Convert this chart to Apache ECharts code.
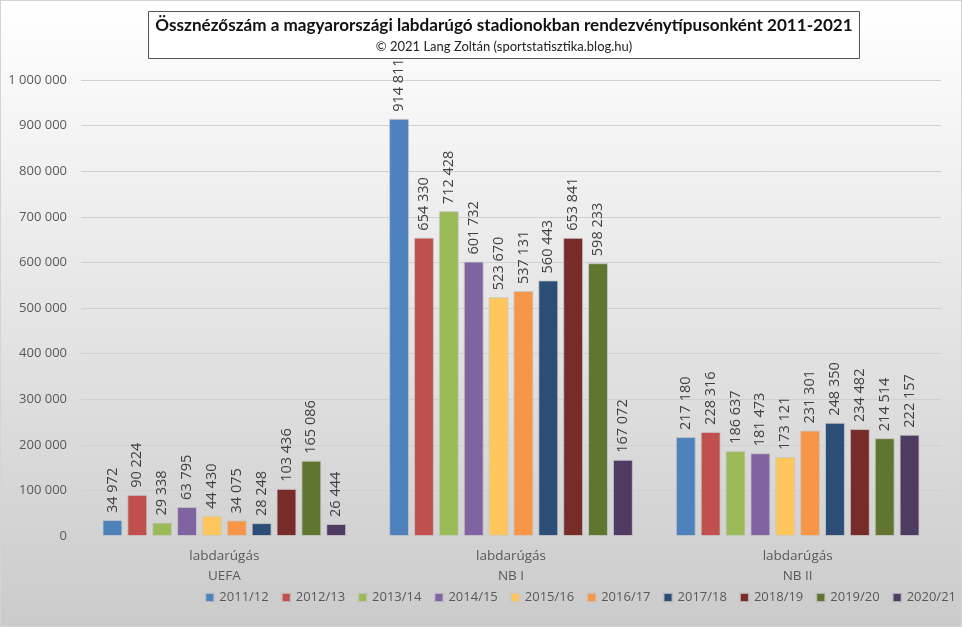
<!DOCTYPE html>
<html><head><meta charset="utf-8">
<script src="https://cdn.jsdelivr.net/npm/echarts@6/dist/echarts.min.js"></script>
<style>html,body{margin:0;padding:0;}#c{width:962px;height:627px;box-sizing:border-box;border:1px solid #d4d4d4;background:linear-gradient(#ffffff,#cbcbcb);}</style>
</head><body><div id="c"></div>
<script>
const categories = ['labdarúgás\nUEFA', 'labdarúgás\nNB I', 'labdarúgás\nNB II'];
const seasons = ['2011/12','2012/13','2013/14','2014/15','2015/16','2016/17','2017/18','2018/19','2019/20','2020/21'];
const uefa = [34972, 90224, 29338, 63795, 44430, 34075, 28248, 103436, 165086, 26444];
const nb1 = [914811, 654330, 712428, 601732, 523670, 537131, 560443, 653841, 598233, 167072];
const nb2 = [217180, 228316, 186637, 181473, 173121, 231301, 248350, 234482, 214514, 222157];
const colors = ['#4F81BD','#C0504D','#9BBB59','#8064A2','#FFC65D','#F79646','#2C4D75','#772C2A','#5F7530','#4D3B62'];
const yTicks = [0,100000,200000,300000,400000,500000,600000,700000,800000,900000,1000000];
const titleText = 'Össznézőszám a magyarországi labdarúgó stadionokban rendezvénytípusonként 2011-2021';
const subText = '© 2021 Lang Zoltán (sportstatisztika.blog.hu)';

const fmt = v => String(v).replace(/\B(?=(\d{3})+(?!\d))/g, ' ');
const F = '"Open Sans", "Noto Sans", sans-serif';

const series = seasons.map((s, i) => ({
  name: s, type: 'bar',
  data: [uefa[i], nb1[i], nb2[i]],
  barGap: '25%', barCategoryGap: '15%',
  itemStyle: { color: colors[i], borderColor: 'rgba(200,200,200,0.8)', borderWidth: 1 },
  label: { show: true, position: 'top', rotate: 90, align: 'left', verticalAlign: 'middle', distance: 7,
    formatter: p => fmt(p.value), color: '#404040', fontSize: 14.5, fontFamily: F }
}));

const chart = echarts.init(document.getElementById('c'));
chart.setOption({
  animation: false,
  color: colors,
  graphic: [
    { type: 'rect', shape: { x: 147.5, y: 10.5, width: 711, height: 47 },
      style: { fill: '#ffffff', stroke: '#555555', lineWidth: 1 }, z: 10 },
    { type: 'text', x: 503, y: 24, z: 11,
      style: { text: titleText, align: 'center', verticalAlign: 'middle',
        font: 'bold 17.1px Lato, "Open Sans", sans-serif', fill: '#111' } },
    { type: 'text', x: 503, y: 46, z: 11,
      style: { text: subText, align: 'center', verticalAlign: 'middle',
        font: '13px Lato, "Open Sans", sans-serif', fill: '#222' } }
  ],
  grid: { left: 80, right: 20, top: 79, bottom: 90, containLabel: false },
  xAxis: {
    type: 'category', data: categories,
    axisLine: { show: false }, axisTick: { show: false },
    axisLabel: { color: '#595959', fontSize: 13.5, lineHeight: 20, margin: 10, fontFamily: F }
  },
  yAxis: {
    type: 'value', min: yTicks[0], max: yTicks[yTicks.length-1], interval: yTicks[1]-yTicks[0],
    axisLine: { show: false }, axisTick: { show: false },
    splitLine: { lineStyle: { color: '#d0d0d0' } },
    axisLabel: { color: '#595959', fontSize: 13, margin: 14, formatter: v => fmt(v), fontFamily: F }
  },
  legend: {
    data: seasons, bottom: 22, right: 5, padding: 0, itemWidth: 9, itemHeight: 9, itemGap: 12,
    icon: 'rect', textStyle: { color: '#595959', fontSize: 13, fontFamily: F }
  },
  series: series
});
</script></body></html>
